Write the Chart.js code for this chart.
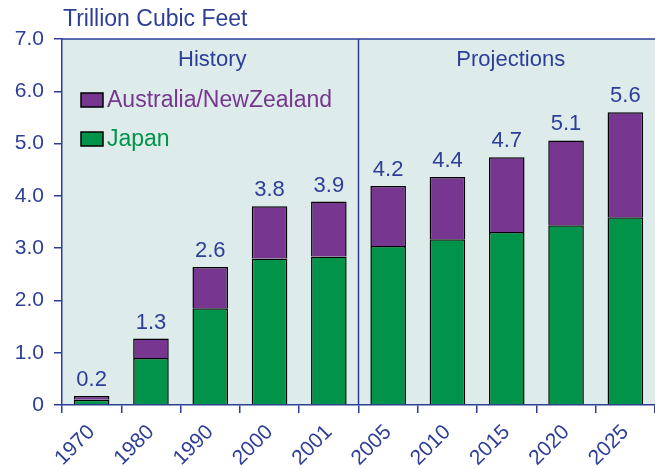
<!DOCTYPE html>
<html>
<head>
<meta charset="utf-8">
<script src="https://cdn.jsdelivr.net/npm/chart.js@4"></script>
<style>
  html, body { margin: 0; padding: 0; background: #ffffff; }
  #wrap { width: 655px; height: 469px; position: relative; }
</style>
</head>
<body>
<div id="wrap"><canvas id="gasChart"></canvas></div>
<script>
// data
const years = ['1970', '1980', '1990', '2000', '2001', '2005', '2010', '2015', '2020', '2025'];
const japan = [0.10, 0.90, 1.85, 2.80, 2.84, 3.04, 3.17, 3.31, 3.44, 3.59];
const ausNz = [0.07, 0.37, 0.79, 1.00, 1.05, 1.15, 1.19, 1.43, 1.62, 2.01];
const totalLabels = ['0.2', '1.3', '2.6', '3.8', '3.9', '4.2', '4.4', '4.7', '5.1', '5.6'];
const yTicks = [0, 1, 2, 3, 4, 5, 6, 7];

const BLUE = '#2d3e98';
const GREEN = '#009349';
const PURPLE = '#77368f';
const PLOT_BG = '#ddebeb';
const FONT = 'Liberation Sans, Arial, sans-serif';

// plot background, top border, history/projection divider and captions
const panelPlugin = {
    id: 'panel',
    beforeDraw(chart) {
        const { ctx, chartArea: a } = chart;
        ctx.save();
        ctx.fillStyle = PLOT_BG;
        ctx.fillRect(a.left, a.top, a.right - a.left, a.bottom - a.top);
        ctx.restore();
    },
    afterDraw(chart) {
        const { ctx, chartArea: a, scales } = chart;
        const x = scales.x;
        const divX = (x.getPixelForValue(4) + x.getPixelForValue(5)) / 2;
        ctx.save();
        ctx.strokeStyle = BLUE;
        ctx.lineWidth = 1.5;
        ctx.beginPath();
        ctx.moveTo(a.left, a.top);
        ctx.lineTo(a.right, a.top);
        ctx.moveTo(divX, a.top);
        ctx.lineTo(divX, a.bottom);
        ctx.stroke();

        ctx.fillStyle = BLUE;
        ctx.font = '22px ' + FONT;
        ctx.textAlign = 'center';
        ctx.textBaseline = 'middle';
        ctx.fillText('History', (a.left + divX) / 2 + 2, a.top + 21);
        ctx.fillText('Projections', (divX + a.right) / 2 + 4, a.top + 21);

        ctx.textAlign = 'left';
        ctx.font = '23px ' + FONT;
        ctx.fillText('Trillion Cubic Feet', a.left + 1, 20);

        // legend
        const items = [
            { label: 'Australia/NewZealand', color: PURPLE, y: 100 },
            { label: 'Japan', color: GREEN, y: 139 }
        ];
        items.forEach(it => {
            ctx.fillStyle = it.color;
            ctx.fillRect(81, it.y - 7, 22, 14);
            ctx.strokeStyle = '#000';
            ctx.lineWidth = 1.5;
            ctx.strokeRect(81, it.y - 7, 22, 14);
            ctx.font = '23px ' + FONT;
            ctx.textBaseline = 'middle';
            ctx.fillText(it.label, 107, it.y + 1);
        });

        // totals above the bars
        const top = chart.getDatasetMeta(1);
        ctx.fillStyle = BLUE;
        ctx.font = '22px ' + FONT;
        ctx.textAlign = 'center';
        ctx.textBaseline = 'bottom';
        top.data.forEach((bar, i) => {
            ctx.fillText(totalLabels[i], bar.x, bar.y - 5);
        });
        ctx.restore();
    }
};

const ctx = document.getElementById('gasChart').getContext('2d');
const gasChart = new Chart(ctx, {
    type: 'bar',
    data: {
        labels: years,
        datasets: [
            {
                label: 'Japan',
                data: japan,
                backgroundColor: GREEN,
                borderColor: '#000',
                borderWidth: 1.5
            },
            {
                label: 'Australia/NewZealand',
                data: ausNz,
                backgroundColor: PURPLE,
                borderColor: '#000',
                borderWidth: 1.5
            }
        ]
    },
    options: {
        responsive: true,
        maintainAspectRatio: false,
        animation: false,
        layout: { padding: { top: 39, right: 0, bottom: 0, left: 0 } },
        datasets: { bar: { categoryPercentage: 1, barPercentage: 0.6 } },
        plugins: {
            legend: { display: false },
            tooltip: { enabled: false }
        },
        scales: {
            x: {
                stacked: true,
                border: { color: BLUE, width: 1.5 },
                grid: { drawOnChartArea: false, color: BLUE, tickLength: 8, lineWidth: 1.5 },
                ticks: {
                    color: BLUE,
                    font: { family: FONT, size: 21 },
                    minRotation: 45,
                    maxRotation: 45,
                    autoSkip: false,
                    padding: 7
                },
                afterFit(scale) { scale.height = 64; }
            },
            y: {
                stacked: true,
                min: 0,
                max: 7,
                border: { color: BLUE, width: 1.5 },
                grid: { drawOnChartArea: false, color: BLUE, tickLength: 8, lineWidth: 1.5 },
                afterBuildTicks(scale) { scale.ticks = yTicks.map(v => ({ value: v })); },
                ticks: {
                    color: BLUE,
                    font: { family: FONT, size: 21 },
                    padding: 10,
                    callback: v => v === 0 ? '0' : v.toFixed(1)
                },
                afterFit(scale) { scale.width = 62; }
            }
        }
    },
    plugins: [panelPlugin]
});
</script>
</body>
</html>
